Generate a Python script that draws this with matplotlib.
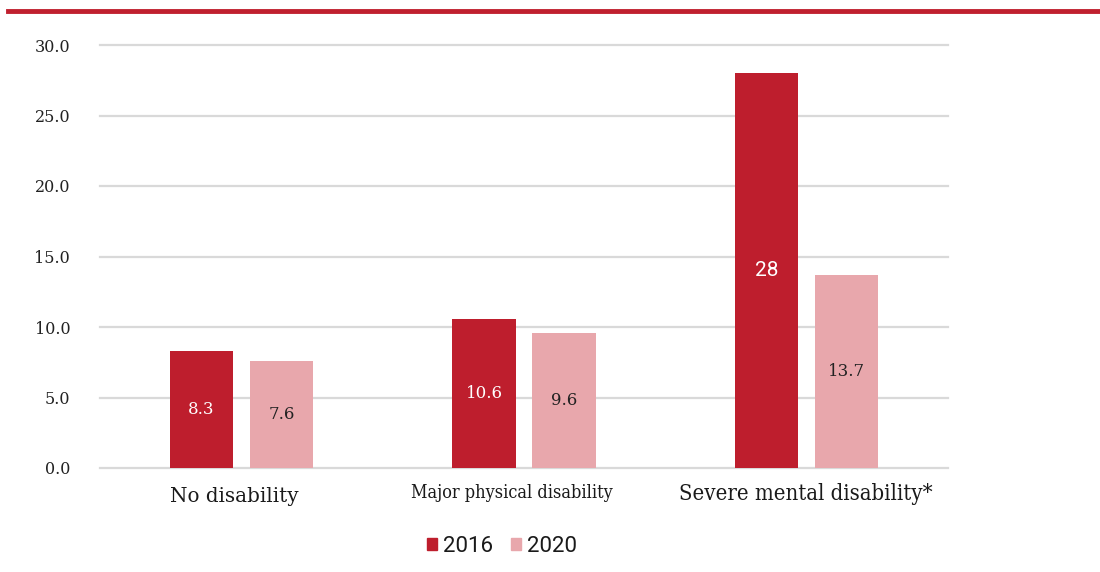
import matplotlib
matplotlib.use("Agg")
import matplotlib.pyplot as plt
from matplotlib.patches import Patch
from matplotlib.lines import Line2D
import numpy as np

categories = ["No disability", "Major physical disability", "Severe mental disability*"]
values_2016 = [8.3, 10.6, 28]
values_2020 = [7.6, 9.6, 13.7]
labels_2016 = ["8.3", "10.6", "28"]
labels_2020 = ["7.6", "9.6", "13.7"]
series_names = ["2016", "2020"]
yticks = [0, 5, 10, 15, 20, 25, 30]

c2016 = "#be1e2d"
c2020 = "#e8a7ac"

fig = plt.figure(figsize=(11, 5.72), dpi=100)
ax = fig.add_axes([100 / 1100, 1 - 468 / 572, 848 / 1100, 423 / 572])

x = np.arange(len(categories))
w = 0.223
off = 0.1415
ax.bar(x - off, values_2016, w, color=c2016, zorder=3)
ax.bar(x + off, values_2020, w, color=c2020, zorder=3)

ax.set_xlim(-0.5, 2.5)
ax.set_ylim(0, 30)
ax.set_yticks(yticks)
ax.set_yticklabels([f"{t:.1f}" for t in yticks], family="DejaVu Serif", fontsize=11.5, color="#222222")
ax.tick_params(axis="y", length=0, pad=21.5)
ax.tick_params(axis="x", length=0)
ax.set_xticks([])
for t in yticks:
    ax.axhline(t, color="#d9d9d9", lw=1.6, zorder=1, clip_on=False)
for s in ax.spines.values():
    s.set_visible(False)

# value labels in the middle of each bar
for i in range(len(categories)):
    if labels_2016[i] == "28":
        ax.text(x[i] - off, values_2016[i] / 2, labels_2016[i], ha="center", va="center",
                color="white", fontsize=15, family="Roboto", zorder=4)
    else:
        ax.text(x[i] - off, values_2016[i] / 2, labels_2016[i], ha="center", va="center",
                color="white", fontsize=12, family="DejaVu Serif", zorder=4)
    ax.text(x[i] + off, values_2020[i] / 2, labels_2020[i], ha="center", va="center",
            color="#222222", fontsize=12, family="DejaVu Serif", zorder=4)

# category labels, nudged slightly left of the group centres
cat_sizes = [14.3, 13, 15.8]
cat_stretch = ["normal", "condensed", "condensed"]
cat_y = [496, 493, 494]
cat_nudge = [-7, -12, -1]
for i, c in enumerate(categories):
    fig.text((100 + 282.67 * (i + 0.5) + cat_nudge[i]) / 1100, 1 - cat_y[i] / 572, c,
             ha="center", va="center", fontsize=cat_sizes[i], family="DejaVu Serif",
             fontstretch=cat_stretch[i], color="#1a1a1a")

# top rule
fig.add_artist(Line2D([8 / 1100, 1], [1 - 11 / 572, 1 - 11 / 572], color="#c0202f", lw=3.5,
                      transform=fig.transFigure))

handles = [Patch(color=c2016), Patch(color=c2020)]
fig.legend(handles, series_names, loc="center", bbox_to_anchor=(502 / 1100, 1 - 546 / 572),
           ncol=2, frameon=False, prop={"family": "Roboto", "size": 16},
           labelcolor="#1a1a1a",
           handlelength=0.45, handleheight=0.45, handletextpad=0.27, columnspacing=0.8)

fig.savefig("out.png", dpi=100)
